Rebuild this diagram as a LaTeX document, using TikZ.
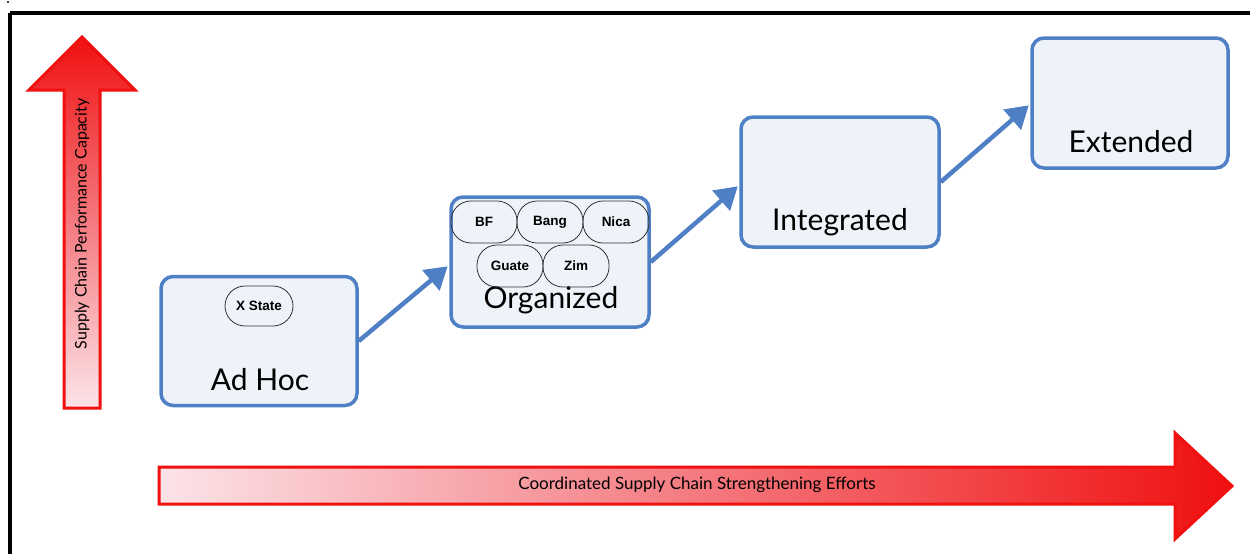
\documentclass[tikz,border=0pt]{standalone}
\usepackage{fontspec}
\setmainfont{Lato}
\newfontfamily\pillfont{Liberation Sans}
\usetikzlibrary{arrows.meta}
\definecolor{boxblue}{HTML}{4F7FC4}
\definecolor{boxfill}{HTML}{EEF2F9}
\definecolor{arrred}{HTML}{F01010}
\definecolor{arrmid}{HTML}{F47A80}
\definecolor{arrpink}{HTML}{FCE4E8}
\tikzset{
  stage/.style={draw=boxblue, line width=3.5pt, fill=boxfill, rounded corners=12pt, minimum width=196pt, minimum height=129pt, inner sep=0pt},
  stagetext/.style={font=\fontsize{30}{33}\selectfont, text=black},
  pill/.style={draw=black!80, line width=0.8pt, rounded corners=20pt, minimum width=66pt, minimum height=42pt, inner sep=0pt, font=\pillfont\bfseries\fontsize{13.5}{15}\selectfont},
  flow/.style={draw=boxblue, line width=4.5pt, -{Triangle[length=22pt,width=26pt]}, shorten >=2pt},
  redarrow/.style={draw=arrred, line width=3pt, line join=miter},
}
\begin{document}
\begin{tikzpicture}[x=1pt,y=-1pt]
\useasboundingbox (0,0) rectangle (1250,554);
% frame
\draw[line width=3.5pt] (10,13) -- (1262,13);
\draw[line width=3.5pt] (10,13) -- (10,570);
\fill (8,2) circle (1.2pt);
% vertical red arrow
\shade[bottom color=arrpink, top color=arrred, middle color=arrmid, shading angle=0]
  (64,408) -- (64,90) -- (29,90) -- (82,37) -- (135,90) -- (100,90) -- (100,408) -- cycle;
\draw[redarrow] (64,408) -- (64,90) -- (29,90) -- (82,37) -- (135,90) -- (100,90) -- (100,408) -- cycle;
\node[rotate=90, font=\fontsize{16}{18}\selectfont] (ylab) at (82,224) {Supply Chain Performance Capacity};
% horizontal red arrow
\shade[left color=arrpink, right color=arrred, middle color=arrmid]
  (159,467) -- (1175,467) -- (1175,433) -- (1232,486) -- (1175,539) -- (1175,504) -- (159,504) -- cycle;
\draw[redarrow] (159,467) -- (1175,467) -- (1175,433) -- (1232,486) -- (1175,539) -- (1175,504) -- (159,504) -- cycle;
\node[font=\fontsize{17}{19}\selectfont] (xlab) at (697,485) {Coordinated Supply Chain Strengthening Efforts};
% stages
\node[stage] (adhoc) at (259,341) {};
\node[stagetext] (adhoct) at (260,380) {Ad Hoc};
\node[pill, minimum width=68pt, minimum height=40pt] (xstate) at (259,306) {X State};

\node[stage, minimum width=198pt, minimum height=130pt] (org) at (550,262) {};
\node[stagetext] (orgt) at (551,300) {Organized};
\node[pill] (bf) at (484,222) {BF};
\node[pill] (bang) at (550,222) {Bang};
\node[pill] (nica) at (616,222) {Nica};
\node[pill] (guate) at (510,266) {Guate};
\node[pill] (zim) at (576,266) {Zim};

\node[stage, minimum width=198pt, minimum height=130pt] (integ) at (840,182) {};
\node[stagetext] (integt) at (840,222) {Integrated};

\node[stage, minimum width=196pt, minimum height=130pt] (ext) at (1130,103) {};
\node[stagetext] (extt) at (1131,142) {Extended};
% flows
\draw[flow] (adhoc.east) -- (org.west |- 0,265);
\draw[flow] (org.east) -- (integ.west |- 0,185);
\draw[flow] (integ.east) -- (ext.west |- 0,104);
\end{tikzpicture}
\end{document}
